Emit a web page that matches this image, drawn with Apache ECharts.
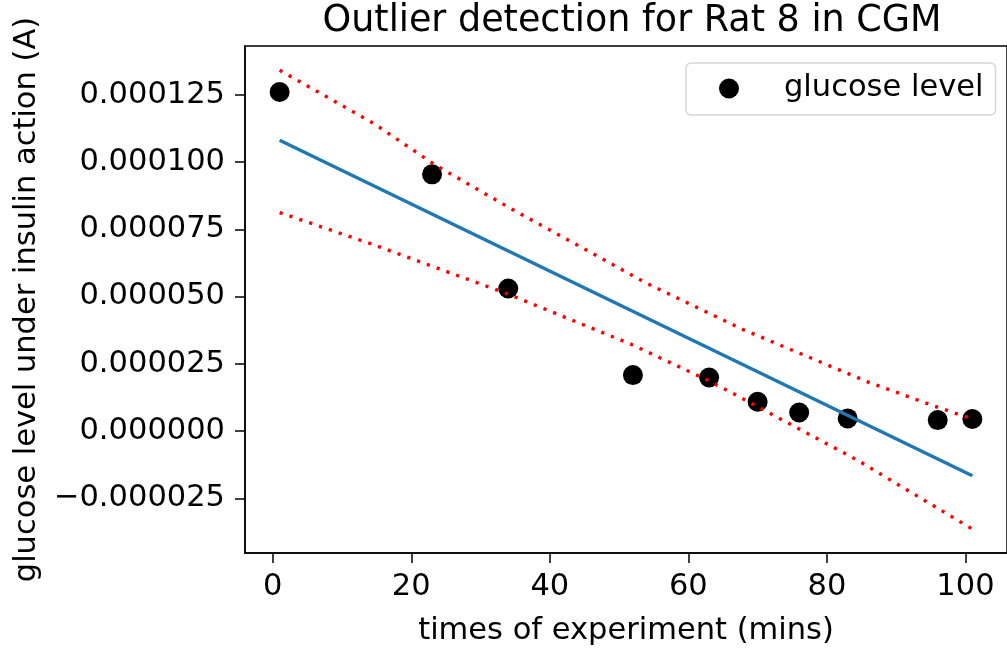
<!DOCTYPE html>
<html>
<head>
<meta charset="utf-8">
<script src="https://cdn.jsdelivr.net/npm/echarts@6/dist/echarts.min.js"></script>
<style>html,body{margin:0;padding:0;background:#fff}#c{width:1007px;height:655px}</style>
</head>
<body>
<div id="c"></div>
<script>
// Data
const times = [1, 23, 34, 52, 63, 70, 76, 83, 96, 101];
const glucose = [126.0e-6, 95.4e-6, 53.0e-6, 20.8e-6, 19.9e-6, 10.9e-6, 6.9e-6, 4.7e-6, 4.1e-6, 4.5e-6];
const fitX = [1, 101];
const fitY = [108.1e-6, -16.6e-6];
const upperX = [1, 14.6, 23.5, 34.1, 54, 68.1, 85.9, 95.5, 101];
const upperY = [134.1e-6, 114.3e-6, 98.8e-6, 83.1e-6, 54.9e-6, 37.5e-6, 18.3e-6, 9.3e-6, 4.5e-6];
const lowerX = [1, 14.4, 34.1, 51.8, 62.8, 66, 84.4, 101];
const lowerY = [81.2e-6, 69.4e-6, 50.8e-6, 32.2e-6, 18.9e-6, 14.6e-6, -10.8e-6, -36.4e-6];
const xTicks = [0, 20, 40, 60, 80, 100];
const yTicks = [-25e-6, 0, 25e-6, 50e-6, 75e-6, 100e-6, 125e-6];

const zip = (a, b) => a.map((v, i) => [v, b[i]]);
const FONT = 'DejaVu Sans';
const FS = 30.5;

const chart = echarts.init(document.getElementById('c'), null, {renderer: 'canvas'});
chart.setOption({
  animation: false,
  backgroundColor: '#fff',
  textStyle: {fontFamily: FONT, color: '#000'},
  title: {
    text: 'Outlier detection for Rat 8 in CGM',
    left: 627, top: -2, textAlign: 'center',
    textStyle: {fontFamily: FONT, fontSize: 36.5, fontWeight: 'normal', color: '#000'}
  },
  legend: {
    data: ['glucose level'],
    left: 686, top: 63,
    orient: 'horizontal',
    padding: [10, 12, 11, 33],
    itemWidth: 40, itemHeight: 20,
    icon: 'circle',
    borderColor: '#d6d6d6', borderWidth: 1.5, borderRadius: 5,
    backgroundColor: 'rgba(255,255,255,0.8)',
    textStyle: {fontFamily: FONT, fontSize: FS, color: '#000', padding: [0, 0, 0, 30]}
  },
  grid: {
    left: 245, top: 46, width: 765, height: 507,
    show: true, borderColor: '#000', borderWidth: 1.5, backgroundColor: 'transparent'
  },
  xAxis: {
    type: 'value', min: -4, max: 106,
    name: 'times of experiment (mins)', nameLocation: 'middle', nameGap: 63,
    nameTextStyle: {fontFamily: FONT, fontSize: FS, color: '#000'},
    axisLine: {show: true, onZero: false, lineStyle: {color: '#000', width: 1.5}},
    splitLine: {show: false},
    axisTick: {show: true, length: 10, lineStyle: {color: '#000', width: 1.5}, customValues: xTicks},
    axisLabel: {fontFamily: FONT, fontSize: FS, color: '#000', margin: 19, customValues: xTicks,
      formatter: v => String(Math.round(v))}
  },
  yAxis: {
    type: 'value', min: -45.3e-6, max: 143.1e-6,
    name: 'glucose level under insulin action (A)', nameLocation: 'middle', nameGap: 202, nameRotate: 90,
    nameTextStyle: {fontFamily: FONT, fontSize: FS, color: '#000'},
    axisLine: {show: true, onZero: false, lineStyle: {color: '#000', width: 1.5}},
    splitLine: {show: false},
    axisTick: {show: true, length: 10, lineStyle: {color: '#000', width: 1.5}, customValues: yTicks},
    axisLabel: {fontFamily: FONT, fontSize: FS, color: '#000', margin: 20, customValues: yTicks,
      formatter: v => (Math.abs(v) < 1e-12 ? 0 : v).toFixed(6).replace('-', '\u2212')}
  },
  series: [
    {
      name: 'glucose level', type: 'scatter', data: zip(times, glucose),
      symbol: 'circle', symbolSize: 20, itemStyle: {color: '#000', opacity: 1}, z: 2
    },
    {
      name: 'fit', type: 'line', data: zip(fitX, fitY), symbol: 'none',
      lineStyle: {color: '#1f77b4', width: 3.4}, z: 3
    },
    {
      name: 'upper', type: 'line', data: zip(upperX, upperY), symbol: 'none', smooth: false,
      lineStyle: {color: '#ff0000', width: 3.4, type: [3.2, 7.2], cap: 'butt'}, z: 4
    },
    {
      name: 'lower', type: 'line', data: zip(lowerX, lowerY), symbol: 'none', smooth: false,
      lineStyle: {color: '#ff0000', width: 3.4, type: [3.2, 7.2], cap: 'butt'}, z: 4
    }
  ]
});
</script>
</body>
</html>
